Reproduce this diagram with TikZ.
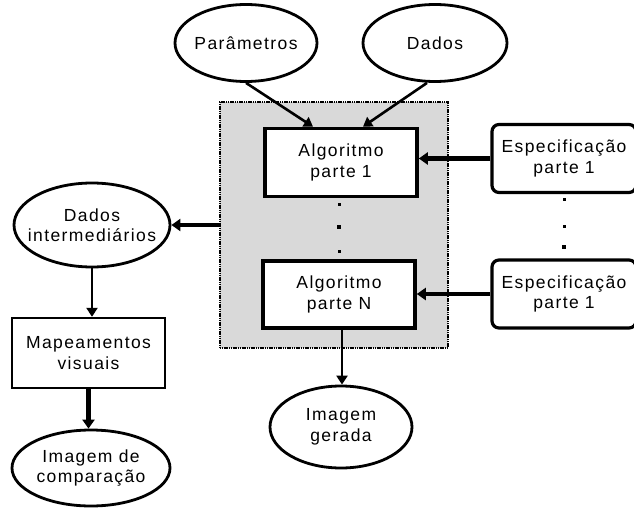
\documentclass[tikz,border=0pt]{standalone}
\usepackage{fontspec}
\setmainfont{Liberation Sans}[LetterSpace=8]
\usetikzlibrary{shapes.geometric,arrows.meta,calc}
\definecolor{panelgray}{HTML}{D9D9D9}
\begin{document}
\begin{tikzpicture}[x=1pt,y=-1pt,
  every node/.style={font=\fontsize{17.5}{20.5}\selectfont, align=center, inner sep=0pt},
  % negative inner sep keeps the ellipse at its minimum size around wide labels
  oval/.style={draw, ellipse, line width=2.8pt, fill=white, inner xsep=-40pt, inner ysep=-20pt},
  algbox/.style={draw, rectangle, line width=3.6pt, fill=white,
    minimum width=152pt, minimum height=68pt},
  mapbox/.style={draw, rectangle, line width=2.4pt, fill=white,
    minimum width=153pt, minimum height=70pt},
  specbox/.style={draw, rectangle, rounded corners=7pt, line width=3.2pt, fill=white,
    minimum width=144pt, minimum height=68pt},
  thinarrow/.style={draw, line width=2.6pt, -{Triangle[length=9pt,width=11pt]}},
  thickarrow/.style={draw, line width=4.2pt, -{Triangle[length=9pt,width=12pt]}},
  dotmark/.style={fill=black, minimum size=3.5pt, rectangle}
]
\useasboundingbox (0,0) rectangle (634,508);
\clip (0,0) rectangle (634,508);

% shaded panel holding the algorithm parts
\node[draw, rectangle, fill=panelgray, line width=2.2pt, dash pattern=on 1.2pt off 0.6pt,
  minimum width=228pt, minimum height=246pt] (grp) at (334,225) {};

% inputs
\node[oval, minimum width=142pt, minimum height=77pt] (par) at (246,43) {Parâmetros};
\node[oval, minimum width=144pt, minimum height=77pt] (dad) at (435,43) {Dados};

% algorithm parts
\node[algbox] (alg1) at (341,162.5) {Algoritmo\\parte 1};
\node[algbox, minimum height=67pt] (algN) at (339,294.5) {Algoritmo\\parte N};
\node[dotmark, minimum size=3pt] (ad1) at (339,204) {};
\node[dotmark] (ad2) at (339,227) {};
\node[dotmark, minimum size=3pt] (ad3) at (339,251) {};

% specifications
\node[specbox] (spec1) at (564,158.5) {Especificação\\parte 1};
\node[specbox] (spec2) at (564,294) {Especificação\\parte 1};
\node[dotmark, minimum size=3pt] (sd1) at (564,199) {};
\node[dotmark, minimum size=3pt] (sd2) at (564,226) {};
\node[dotmark] (sd3) at (564,247) {};

% left column
\node[oval, minimum width=156pt, minimum height=84pt] (dint) at (92,225) {Dados\\intermediários};
\node[mapbox] (map) at (88.5,353) {Mapeamentos\\visuais};
\node[oval, minimum width=158pt, minimum height=76pt] (icmp) at (91,468) {Imagem de\\comparação};

% output
\node[oval, minimum width=142pt, minimum height=82pt] (iger) at (341,427) {Imagem\\gerada};

% attachment points
\coordinate (parIn) at ($(alg1.north)+(-28,0)$);
\coordinate (dadOut) at ($(dad.south)+(-8,0)$);
\coordinate (dadIn) at ($(alg1.north)+(22,0)$);
\coordinate (algOut) at ($(algN.south)+(3,0)$);

% connectors
\draw[thinarrow] (par.south) -- (parIn);
\draw[thinarrow] (dadOut) -- (dadIn);
\draw[thickarrow] (spec1.west) -- (spec1.west -| alg1.east);
\draw[thickarrow] (spec2.west) -- (spec2.west -| algN.east);
\draw[thickarrow] (grp.west) -- (dint.east);
\draw[thinarrow] (dint.south) -- (dint.south |- map.north);
\draw[thickarrow] (map.south) -- (map.south |- icmp.north);
\draw[thinarrow] (algOut) -- (algOut |- iger.north);
\end{tikzpicture}
\end{document}
